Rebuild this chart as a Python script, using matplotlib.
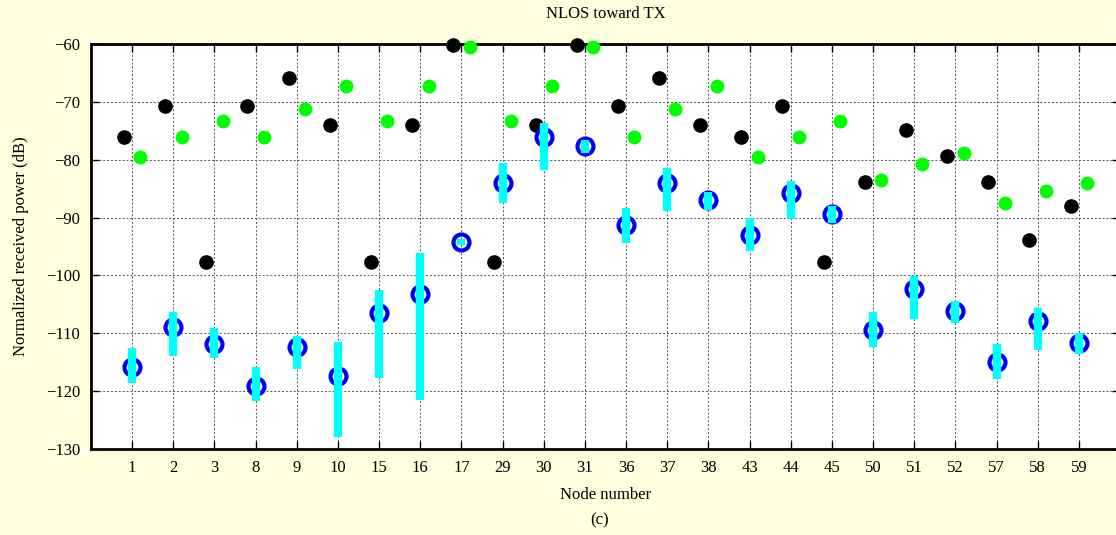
import numpy as np
import matplotlib
matplotlib.use('Agg')
import matplotlib.pyplot as plt

# node ids along the x axis
nodes = ['1', '2', '3', '8', '9', '10', '15', '16', '17', '29', '30', '31',
         '36', '37', '38', '43', '44', '45', '50', '51', '52', '57', '58', '59']

# black dots (left of each node) and green dots (right of each node), dB
black_db = [-76.1, -70.7, -97.6, -70.7, -65.9, -74.0, -97.6, -74.0, -60.1, -97.6, -74.0, -60.1,
            -70.7, -65.9, -74.0, -76.1, -70.7, -97.6, -83.8, -74.9, -79.3, -83.9, -93.8, -88.0]
green_db = [-79.5, -76.0, -73.3, -76.0, -71.2, -67.2, -73.3, -67.2, -60.5, -73.3, -67.2, -60.5,
            -76.0, -71.2, -67.2, -79.5, -76.0, -73.3, -83.5, -80.7, -78.9, -87.5, -85.4, -84.0]

# measured mean (blue circles) with spread (cyan bars), dB
mean_db = [-115.9, -108.9, -111.8, -119.1, -112.4, -117.4, -106.5, -103.2, -94.2, -84.0, -76.0, -77.6,
           -91.3, -84.0, -87.0, -93.0, -85.8, -89.3, -109.4, -102.4, -106.1, -115.0, -107.8, -111.7]
upper_db = [-112.6, -106.4, -109.1, -115.8, -110.5, -111.5, -102.5, -96.2, -93.7, -80.6, -73.6, -76.6,
            -88.3, -81.5, -85.5, -90.1, -83.6, -88.0, -106.4, -100.1, -104.5, -111.8, -105.6, -110.0]
lower_db = [-118.6, -113.9, -114.3, -121.7, -116.2, -128.0, -117.7, -121.6, -94.8, -87.5, -81.8, -78.8,
            -94.4, -88.9, -88.7, -95.8, -90.3, -90.9, -112.4, -107.6, -108.3, -117.9, -112.9, -113.5]

plt.rcParams['font.family'] = ['Liberation Serif', 'DejaVu Serif']
bg = '#ffffe0'

fig = plt.figure(figsize=(11.16, 5.35), dpi=100, facecolor=bg)
ax = fig.add_axes([91 / 1116, 86 / 535, 1029 / 1116, 405 / 535])
ax.set_facecolor('white')

x = np.arange(1, len(nodes) + 1)

ax.plot(x - 0.2, black_db, 'o', color='black', ms=9.5, zorder=4, clip_on=False)
ax.plot(x + 0.2, green_db, 'o', color='#00ff00', ms=9, mec='#00ff00', zorder=4, clip_on=False)
ax.plot(x, mean_db, 'o', mfc='none', mec='#0000ff', mew=3, ms=11.5, zorder=5)
ax.vlines(x, lower_db, upper_db, color='#00ffff', lw=6, zorder=6, capstyle='butt')

ax.set_xlim(0, 25)
ax.set_ylim(-130, -60)
ax.set_xticks(x)
ax.set_xticklabels(nodes)
ax.set_yticks(np.arange(-130, -59, 10))

ax.grid(True, color='#555555', linestyle=(0, (2, 2)), linewidth=0.7)
ax.set_axisbelow(True)
ax.tick_params(direction='in', length=6, width=1, top=True, right=True,
               labelsize=12, pad=8, color='black')
for side in ['left', 'bottom', 'top', 'right']:
    ax.spines[side].set_linewidth(2)

ax.set_title('NLOS toward TX', fontsize=12, pad=19)
ax.set_xlabel('Node number', fontsize=12, labelpad=8)
ax.set_ylabel('Normalized received power (dB)', fontsize=12, labelpad=12)
fig.text(600 / 1116, 1 - 520 / 535, '(c)', ha='center', va='center', fontsize=12)

fig.savefig('out.png', dpi=100, facecolor=bg)
